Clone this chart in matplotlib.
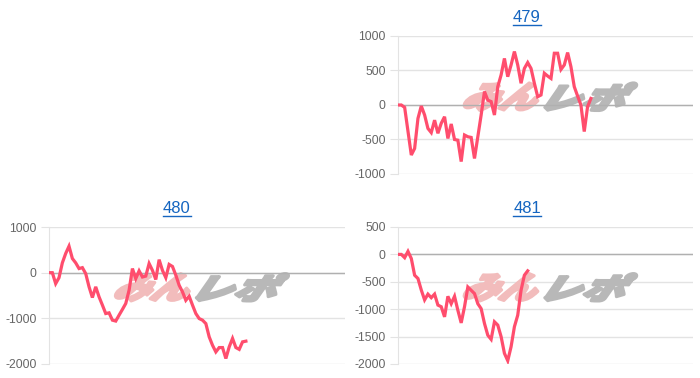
import matplotlib
matplotlib.use('Agg')
import matplotlib.pyplot as plt
from matplotlib.textpath import TextPath
from matplotlib.patches import PathPatch
from matplotlib.font_manager import FontProperties
from matplotlib.transforms import Affine2D
from matplotlib.lines import Line2D

plt.rcParams['font.family'] = ['Liberation Sans', 'DejaVu Sans']
plt.rcParams['axes.unicode_minus'] = False

# cumulative values per machine (x = game index)
titles = ['479', '480', '481']
s479 = [0, 0, -35, -380, -725, -630, -195, -15, -145, -340, -400, -220, -410, -265, -170,
        -485, -275, -500, -510, -820, -435, -460, -470, -775, -460, -145, 195, 70, 50, -145,
        265, 435, 675, 410, 580, 775, 580, 315, 530, 615, 530, 315, 120, 145, 460,
        420, 385, 750, 750, 515, 580, 760, 555, 265, 130, 0, -385, -25, 95]
s480 = [0, 0, -240, -110, 215, 420, 580, 310, 215, 90, 110, -20, -310, -545, -310,
        -530, -710, -895, -880, -1040, -1060, -930, -805, -675, -385, 90, -130, 40, -95, -75,
        200, 50, -150, 285, 50, -110, 180, 135, -55, -275, -420, -605, -515, -710, -895,
        -1005, -1040, -1115, -1405, -1590, -1735, -1640, -1640, -1880, -1625, -1440, -1640, -1680, -1515, -1500]
s481 = [0, 0, -60, 55, -75, -380, -440, -650, -830, -725, -790, -725, -925, -955, -1140,
        -765, -900, -765, -1020, -1250, -955, -595, -655, -715, -900, -990, -1260, -1475, -1550, -1230,
        -1290, -1500, -1805, -1940, -1685, -1320, -1110, -655, -380, -300]
series = [s479, s480, s481]
yticks = [[-1000, -500, 0, 500, 1000], [-2000, -1000, 0, 1000], [-2000, -1500, -1000, -500, 0, 500]]
XMAX = 88.7

LINE_COLOR = '#ff4d6d'
GRID = '#e3e3e3'
LINK = '#1565c0'

W, H = 700, 378
fig = plt.figure(figsize=(7, 3.78), dpi=100)

# axes boxes in pixels: left, top, right, bottom
boxes = [(398, 36, 693, 174), (49, 227, 345, 364), (398, 227, 693, 364)]
title_pos = [(527, 22.5), (177, 213.5), (527, 213.5)]


def logo(ax, txt, box, color):
    tp = TextPath((0, 0), txt, size=1,
                  prop=FontProperties(family='Noto Sans CJK JP', weight='black'))
    ext = tp.get_extents()
    bx, by, bw, bh = box
    tr = (Affine2D().translate(-ext.x0, -ext.y0).scale(1 / ext.width, 1 / ext.height)
          .skew_deg(14, 0).scale(bw * 0.9, bh).translate(bx, by) + ax.transAxes)
    ax.add_patch(PathPatch(tp, transform=tr, facecolor=color, edgecolor=color,
                           lw=2.2, joinstyle='round', zorder=1))


axes = []
for i in range(3):
    l, t, r, b = boxes[i]
    ax = fig.add_axes([l / W, 1 - b / H, (r - l) / W, (b - t) / H])
    axes.append(ax)
    data = series[i]
    ax.plot(range(len(data)), data, color=LINE_COLOR, lw=2.3, zorder=3,
            solid_joinstyle='miter')
    ax.set_xlim(0, XMAX)
    ax.set_ylim(yticks[i][0], yticks[i][-1])
    ax.set_yticks(yticks[i])
    ax.set_xticks([])
    ax.grid(axis='y', color=GRID, lw=1)
    ax.axhline(0, color='#b0b0b0', lw=1, zorder=2)
    for s in ['top', 'right', 'bottom']:
        ax.spines[s].set_visible(False)
    ax.spines['left'].set_color(GRID)
    ax.tick_params(axis='y', length=6, color=GRID, pad=3, labelsize=8.8, labelcolor='#666666')
    ax.set_axisbelow(True)

    logo(ax, 'みん', (0.21, 0.46, 0.27, 0.2), '#f2bcbc')
    logo(ax, 'レポ', (0.49, 0.46, 0.29, 0.2), '#b8b8b8')

    tx, ty = title_pos[i]
    fig.text(tx / W, 1 - ty / H, titles[i], ha='center', va='baseline',
             fontsize=12, color=LINK)

# underline the titles like links
fig.canvas.draw()
rend = fig.canvas.get_renderer()
for txt in fig.texts:
    bb = txt.get_window_extent(rend)
    y = txt.get_position()[1] * H - 2.5
    fig.add_artist(Line2D([bb.x0 / W, bb.x1 / W], [y / H, y / H],
                          color=LINK, lw=1, transform=fig.transFigure))

fig.savefig('out.png', dpi=100, facecolor='white')
